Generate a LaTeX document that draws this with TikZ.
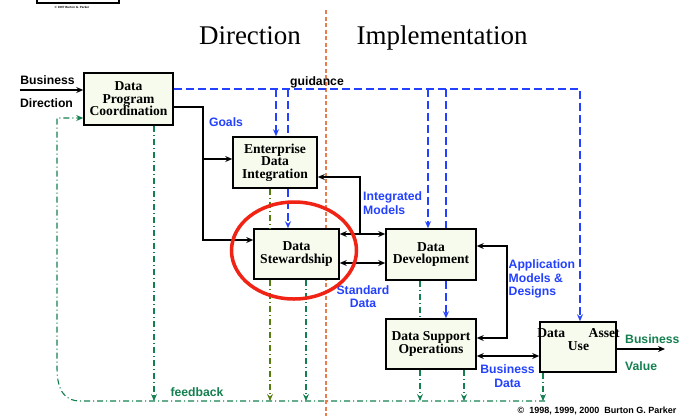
\documentclass[tikz,border=0pt]{standalone}
\usepackage{fontspec}
\setmainfont{Liberation Serif}
\setsansfont{Liberation Sans}
\usetikzlibrary{arrows.meta,calc,shapes.geometric}
\definecolor{boxfill}{RGB}{246,251,237}
\definecolor{lblue}{RGB}{35,65,255}
\definecolor{tgreen}{RGB}{20,128,80}
\definecolor{ogreen}{RGB}{85,125,20}
\definecolor{orangeL}{RGB}{232,125,80}
\definecolor{redL}{RGB}{240,35,20}
\pgfdeclarelayer{bg}
\pgfsetlayers{bg,main}
\begin{document}
\begin{tikzpicture}[x=1pt,y=-1pt,
  boxn/.style={draw=black,line width=1.6pt,fill=boxfill,font=\fontsize{13.6}{12.6}\selectfont\bfseries,align=center,inner sep=0pt},
  btext/.style={font=\fontsize{13.6}{12.6}\selectfont\bfseries,inner sep=0pt},
  lbl/.style={font=\sffamily\bfseries\fontsize{12.2}{13.5}\selectfont,inner sep=0pt,anchor=base},
  blbl/.style={lbl,text=lblue},
  glbl/.style={lbl,text=tgreen},
  arrowend/.style={-{Stealth[length=7pt,width=6pt,inset=2.5pt]}},
  arrowboth/.style={{Stealth[length=7pt,width=6pt,inset=2.5pt]}-{Stealth[length=7pt,width=6pt,inset=2.5pt]}},
  blk/.style={draw=black,line width=1.1pt},
  bdash/.style={draw=lblue,line width=1.1pt,dash pattern=on 8pt off 4pt},
  gdd/.style={draw=tgreen,line width=1.1pt,dash pattern=on 6pt off 3pt on 1pt off 3pt},
  odd/.style={draw=ogreen,line width=1.1pt,dash pattern=on 6pt off 3pt on 1pt off 3pt},
]
\begin{pgfonlayer}{bg}
\fill[white] (0,0) rectangle (686,416);
\end{pgfonlayer}
\useasboundingbox (0,0) rectangle (686,416);

% logo fragment
\draw[line width=1.3pt] (37,-4) rectangle (119,3);
\node[font=\sffamily\bfseries\fontsize{3}{3}\selectfont,inner sep=0pt] (logo) at (72,7.5) {\char"00A9\ 1997 Burton G. Parker};

% titles
\node[font=\fontsize{27}{30}\selectfont,inner sep=0pt,anchor=base] (tdir) at (250,44) {Direction};
\node[font=\fontsize{27}{30}\selectfont,inner sep=0pt,anchor=base] (timp) at (442,44) {Implementation};

% boxes
\node[boxn,minimum width=89pt,minimum height=52pt] (dpc) at (128.5,99) {Data\\Program\\Coordination};
\node[boxn,minimum width=84pt,minimum height=51pt] (edi) at (275,162.5) {Enterprise\\Data\\Integration};
\node[boxn,minimum width=85pt,minimum height=50pt] (ds) at (296.5,254) {Data\\Stewardship};
\node[boxn,minimum width=90pt,minimum height=51pt] (dd) at (431,254.5) {Data\\Development};
\node[boxn,minimum width=90pt,minimum height=50pt] (dso) at (431,344) {Data Support\\Operations};
\node[boxn,minimum width=76pt,minimum height=50pt] (dau) at (578,347) {};
\node[btext,anchor=base] (daut1) at (578.5,337) {Data\hspace{23.5pt}Asset};
\node[btext,anchor=base] (daut2) at (578.5,350) {Use};

% orange divider
\begin{pgfonlayer}{bg}
\coordinate (o1) at (326,10);
\coordinate (o2) at (326,416);
\draw[orangeL,line width=2.5pt,dash pattern=on 4pt off 2.5pt] (o1) -- (o2);
\end{pgfonlayer}

% business direction
\coordinate (bd) at (20,90);
\draw[blk,arrowend] (bd) -- (bd -| dpc.west);
\node[lbl] (lbus1) at (47.5,84.5) {Business};
\node[lbl] (ldir) at (46.5,107.5) {Direction};

% guidance (blue dashed)
\coordinate (gR) at (580,89);
\draw[bdash,arrowend] (dpc.east |- gR) -- (gR) -- (gR |- dau.north);
\coordinate (g276) at (276,89);
\draw[bdash,arrowend] (g276) -- (g276 |- edi.north);
\coordinate (g288) at (288,89);
\draw[bdash] (g288) -- (g288 |- edi.north);
\draw[bdash,arrowend] (g288 |- edi.south) -- (g288 |- ds.north);
\coordinate (g428) at (428,89);
\draw[bdash,arrowend] (g428) -- (g428 |- dd.north);
\coordinate (g446) at (446,89);
\draw[bdash] (g446) -- (g446 |- dd.north);
\draw[bdash,arrowend] (g446 |- dd.south) -- (g446 |- dso.north);
\node[lbl] (lguid) at (317,85) {guidance};

% black connectors
\coordinate (k1) at (203,107);
\coordinate (k2) at (203,240);
\coordinate (k3) at (203,159);
\draw[blk,arrowend] (dpc.east |- k1) -- (k1) -- (k2) -- (k2 -| ds.west);
\draw[blk,arrowend] (k3) -- (k3 -| edi.west);
\coordinate (m1) at (360,234);
\coordinate (m2) at (360,177);
\coordinate (m3) at (360,263);
\draw[blk,arrowend] (m1) -- (m2) -- (m2 -| edi.east);
\draw[blk,arrowboth] (ds.east |- m1) -- (dd.west |- m1);
\draw[blk,arrowboth] (ds.east |- m3) -- (dd.west |- m3);
\coordinate (p1) at (507,246);
\coordinate (p2) at (507,338);
\draw[blk,arrowboth] (p1 -| dd.east) -- (p1) -- (p2) -- (p2 -| dso.east);
\coordinate (q1) at (508,356);
\draw[blk,arrowboth] (q1 -| dso.east) -- (q1 -| dau.west);
\coordinate (bv) at (665,349);
\draw[blk,arrowend] (bv -| dau.east) -- (bv);

% feedback (green dash-dot)
\coordinate (fR) at (545,401);
\coordinate (fL) at (80,401);
\coordinate (fC) at (57,368);
\coordinate (fT) at (57,118);
\draw[gdd,arrowend] (fR) -- (fL) .. controls (66,401) and (57,392) .. (fC) -- (fT) -- (fT -| dpc.west);
\coordinate (v154) at (154,401);
\draw[gdd,arrowend] (v154 |- dpc.south) -- (v154);
\coordinate (v270) at (270,401);
\draw[odd] (v270 |- edi.south) -- (v270 |- ds.north);
\draw[odd,arrowend] (v270 |- ds.south) -- (v270);
\coordinate (v306) at (306,401);
\draw[gdd,arrowend] (v306 |- ds.south) -- (v306);
\coordinate (v420) at (420,401);
\draw[gdd] (v420 |- dd.south) -- (v420 |- dso.north);
\draw[gdd,arrowend] (v420 |- dso.south) -- (v420);
\coordinate (v464) at (464,401);
\draw[gdd,arrowend] (v464 |- dso.south) -- (v464);
\coordinate (v543) at (543,401);
\draw[gdd,arrowend] (v543 |- dau.south) -- (v543);
\node[glbl] (lfeed) at (197,396) {feedback};

% labels
\node[blbl] (lgoals) at (226,126) {Goals};
\node[blbl,anchor=base west] (lint1) at (363,200) {Integrated};
\node[blbl,anchor=base west] (lint2) at (363,214) {Models};
\node[blbl] (lstd1) at (363,294) {Standard};
\node[blbl] (lstd2) at (363,307.5) {Data};
\node[blbl,anchor=base west] (lapp1) at (508.5,268.5) {Application};
\node[blbl,anchor=base west] (lapp2) at (508.5,282) {Models \&};
\node[blbl,anchor=base west] (lapp3) at (508.5,295.5) {Designs};
\node[blbl] (lbd1) at (507.5,373) {Business};
\node[blbl] (lbd2) at (507.5,387) {Data};
\node[glbl,anchor=base west] (lbv1) at (625,343) {Business};
\node[glbl,anchor=base west] (lbv2) at (625,370) {Value};
\node[font=\sffamily\bfseries\fontsize{9}{10}\selectfont,inner sep=0pt,anchor=base] (copy) at (597,413) {\char"00A9\ \ 1998, 1999, 2000\ \ Burton G. Parker};

% red ellipse highlight
\node[draw=redL,line width=3.5pt,ellipse,minimum width=125pt,minimum height=97pt,inner sep=0pt] (hl) at (294,250.5) {};
\end{tikzpicture}
\end{document}
